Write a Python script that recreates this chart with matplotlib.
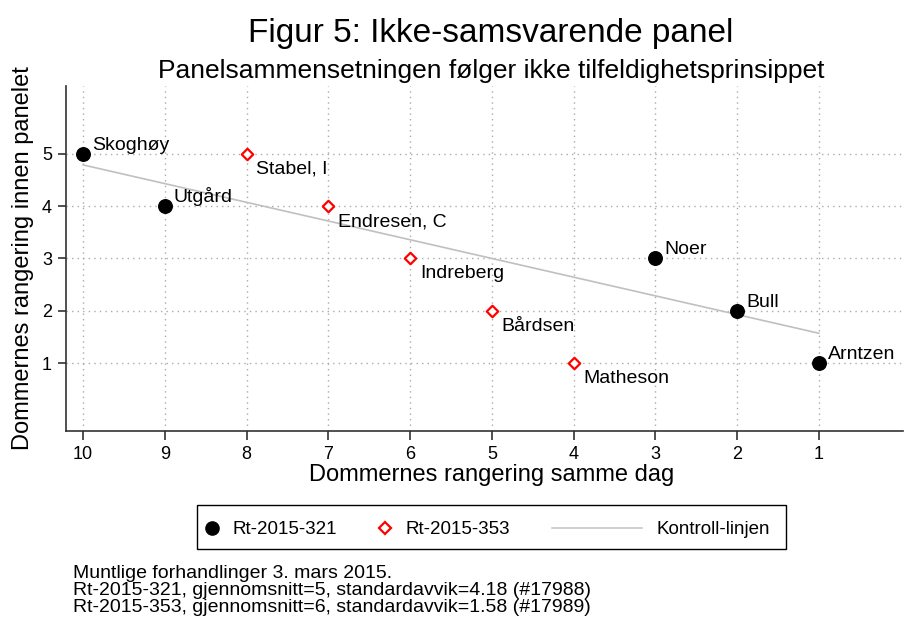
import matplotlib
matplotlib.use("Agg")
import matplotlib.pyplot as plt
from matplotlib.lines import Line2D
from matplotlib.patches import Rectangle

plt.rcParams['font.family'] = ['Liberation Sans', 'DejaVu Sans']

# Data
black_x = [10, 9, 3, 2, 1]
black_y = [5, 4, 3, 2, 1]
black_names = ["Skoghøy", "Utgård", "Noer", "Bull", "Arntzen"]

red_x = [8, 7, 6, 5, 4]
red_y = [5, 4, 3, 2, 1]
red_names = ["Stabel, I", "Endresen, C", "Indreberg", "Bårdsen", "Matheson"]

line_x = [10, 1]
line_y = [4.79, 1.57]

x_ticks = [10, 9, 8, 7, 6, 5, 4, 3, 2, 1]
y_ticks = [1, 2, 3, 4, 5]

legend_labels = ["Rt-2015-321", "Rt-2015-353", "Kontroll-linjen"]
notes = ["Muntlige forhandlinger 3. mars 2015.",
         "Rt-2015-321, gjennomsnitt=5, standardavvik=4.18 (#17988)",
         "Rt-2015-353, gjennomsnitt=6, standardavvik=1.58 (#17989)"]

W, H = 905, 621
fig = plt.figure(figsize=(W / 100, H / 100), dpi=100)


def fx(px):
    return px / W


def fy(py):
    return 1 - py / H


ax = fig.add_axes([fx(66), fy(431), (903 - 66) / W, (431 - 86) / H])

ax.set_xlim(10.21, -0.03)
ax.set_ylim(-0.3, 6.3)

ax.plot(line_x, line_y, color='#c0c0c0', lw=1.2, zorder=2)
ax.scatter(black_x, black_y, s=95, color='black', zorder=3)
ax.scatter(red_x, red_y, s=34, marker='D', facecolor='white', edgecolor='#ff0000', linewidth=1.6, zorder=3)

for x, y, n in zip(black_x, black_y, black_names):
    ax.annotate(n, (x, y), xytext=(6.5, 3), textcoords='offset points', fontsize=14, va='baseline', ha='left')
for x, y, n in zip(red_x, red_y, red_names):
    ax.annotate(n, (x, y), xytext=(7, -5), textcoords='offset points', fontsize=14, va='top', ha='left')

ax.set_xticks(x_ticks)
ax.set_yticks(y_ticks)
ax.set_xticklabels([str(v) for v in x_ticks], fontsize=13)
ax.set_yticklabels([str(v) for v in y_ticks], fontsize=13)
ax.grid(True, linestyle=(0, (1, 3)), color='#aaaaaa', linewidth=1)
ax.set_axisbelow(True)
for s in ['top', 'right']:
    ax.spines[s].set_visible(False)
for s in ['left', 'bottom']:
    ax.spines[s].set_color('#333333')
    ax.spines[s].set_linewidth(1.2)
ax.tick_params(axis='x', direction='out', length=6.5, width=1.2, color='#333333', pad=4)
ax.tick_params(axis='y', direction='out', length=6, width=1.2, color='#333333', pad=4)

ax.set_xlabel("Dommernes rangering samme dag", fontsize=17, labelpad=2)
ax.xaxis.set_label_coords((491.5 - 66) / (903 - 66), -0.095)
ax.set_ylabel("Dommernes rangering innen panelet", fontsize=17, labelpad=6)

fig.text(fx(490.5), fy(42), "Figur 5: Ikke-samsvarende panel", fontsize=24, ha='center', va='baseline')
fig.text(fx(491.5), fy(78), "Panelsammensetningen følger ikke tilfeldighetsprinsippet", fontsize=19,
         ha='center', va='baseline')

# Legend (built by hand to match the layout)
fig.add_artist(Rectangle((fx(197), fy(549)), (786 - 197) / W, (549 - 505) / H, transform=fig.transFigure,
                         facecolor='white', edgecolor='black', linewidth=1.0))
ly = fy(528)
fig.add_artist(Line2D([fx(212)], [ly], marker='o', color='black', linestyle='none', markersize=9.5,
                      transform=fig.transFigure))
fig.add_artist(Line2D([fx(385)], [ly], marker='D', markerfacecolor='white', markeredgecolor='#ff0000',
                      markeredgewidth=1.6, linestyle='none', markersize=6, transform=fig.transFigure))
fig.add_artist(Line2D([fx(552), fx(642)], [ly, ly], color='#c8c8c8', lw=1.2, transform=fig.transFigure))
for xpos, lab in zip([232, 405, 657], legend_labels):
    fig.text(fx(xpos), ly, lab, fontsize=13.5, ha='left', va='center_baseline')

for i, line in enumerate(notes):
    fig.text(fx(73), fy(578 + 17 * i), line, fontsize=14, ha='left', va='baseline')

fig.savefig("out.png", dpi=100)
